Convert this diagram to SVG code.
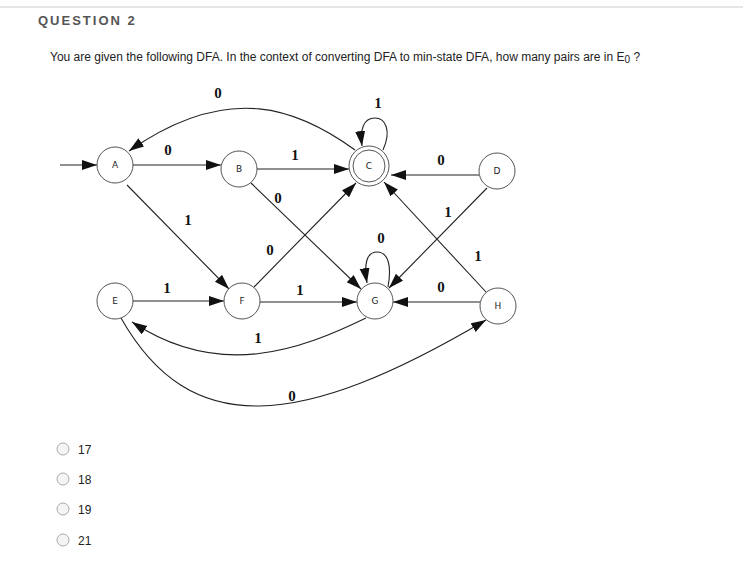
<svg xmlns="http://www.w3.org/2000/svg" width="743" height="583" viewBox="0 0 743 583">
<style>
.n{fill:#fff;stroke:#555;stroke-width:1}
.nl{font-family:"DejaVu Sans",sans-serif;font-size:9px;fill:#222;text-anchor:middle}
.e{fill:none;stroke:#222;stroke-width:1.1}
.el{font-family:"Liberation Serif",serif;font-weight:bold;font-size:15px;fill:#111;text-anchor:middle}
.t{font-family:"Liberation Sans",Arial,sans-serif;font-size:12px;fill:#222}
.r{fill:#f4f4f4;stroke:#aaa;stroke-width:1}
</style>
<defs>
<marker id="ar" markerUnits="userSpaceOnUse" markerWidth="16" markerHeight="12" refX="15" refY="5" orient="auto">
<path d="M0,0 L15,5 L0,10 Z" fill="#111"/>
</marker>
</defs>
<rect width="743" height="583" fill="#fff"/>
<line x1="0" y1="7" x2="743" y2="7" stroke="#ccc"/>
<text x="38" y="25" class="t" style="font-size:13px;font-weight:bold;letter-spacing:2px;fill:#555">QUESTION 2</text>
<text x="50" y="61" class="t">You are given the following DFA. In the context of converting DFA to min-state DFA, how many pairs are in E<tspan font-size="10" dy="2">0</tspan><tspan dy="-2">  ?</tspan></text>
<g id="edges">
<line class="e" x1="60" y1="165" x2="97" y2="165" marker-end="url(#ar)"/>
<path class="e" d="M355,150 C300,110 230,80 129,151" marker-end="url(#ar)"/>
<line class="e" x1="133" y1="165" x2="221" y2="165" marker-end="url(#ar)"/>
<line class="e" x1="257" y1="169" x2="349" y2="169" marker-end="url(#ar)"/>
<line class="e" x1="479" y1="175" x2="391" y2="175" marker-end="url(#ar)"/>
<line class="e" x1="127" y1="185" x2="229" y2="289" marker-end="url(#ar)"/>
<line class="e" x1="251" y1="183" x2="361" y2="289" marker-end="url(#ar)"/>
<line class="e" x1="254" y1="287" x2="356" y2="183" marker-end="url(#ar)"/>
<line class="e" x1="487" y1="188" x2="389" y2="288" marker-end="url(#ar)"/>
<line class="e" x1="486" y1="292" x2="384" y2="182" marker-end="url(#ar)"/>
<line class="e" x1="133" y1="301" x2="224" y2="301" marker-end="url(#ar)"/>
<line class="e" x1="260" y1="302" x2="357" y2="302" marker-end="url(#ar)"/>
<line class="e" x1="480" y1="302" x2="393" y2="302" marker-end="url(#ar)"/>
<path class="e" d="M366,318 C300,350 220,380 132,322" marker-end="url(#ar)"/>
<path class="e" d="M121,318 C190,440 300,430 486,320" marker-end="url(#ar)"/>
<path class="e" d="M383,150 C392,130 385,118 375,118 C363,118 360,130 362,146" marker-end="url(#ar)"/>
<path class="e" d="M388,287 C392,265 388,252 377,252 C366,252 364,265 367,283" marker-end="url(#ar)"/>
</g>
<g id="A"><circle class="n" cx="115" cy="165" r="18"/><text class="nl" x="115" y="168">A</text></g>
<g id="B"><circle class="n" cx="239" cy="169" r="18"/><text class="nl" x="239" y="172">B</text></g>
<g id="C"><circle class="n" cx="369" cy="166" r="20"/><circle class="n" cx="369" cy="166" r="16"/><text class="nl" x="369" y="169">C</text></g>
<g id="D"><circle class="n" cx="497" cy="171" r="18"/><text class="nl" x="497" y="174">D</text></g>
<g id="E"><circle class="n" cx="115" cy="301" r="18"/><text class="nl" x="115" y="304">E</text></g>
<g id="F"><circle class="n" cx="242" cy="301" r="18"/><text class="nl" x="242" y="304">F</text></g>
<g id="G"><circle class="n" cx="375" cy="301" r="18"/><text class="nl" x="375" y="304">G</text></g>
<g id="H"><circle class="n" cx="498" cy="306" r="18"/><text class="nl" x="498" y="309">H</text></g>
<g id="labels">
<text class="el" x="218" y="98">0</text>
<text class="el" x="378" y="108">1</text>
<text class="el" x="168" y="155">0</text>
<text class="el" x="295" y="160">1</text>
<text class="el" x="441" y="165">0</text>
<text class="el" x="278" y="203">0</text>
<text class="el" x="188" y="225">1</text>
<text class="el" x="448" y="217">1</text>
<text class="el" x="270" y="255">0</text>
<text class="el" x="381" y="243">0</text>
<text class="el" x="478" y="261">1</text>
<text class="el" x="167" y="293">1</text>
<text class="el" x="300" y="295">1</text>
<text class="el" x="441" y="292">0</text>
<text class="el" x="258" y="343">1</text>
<text class="el" x="292" y="401">0</text>
</g>
<g id="options">
<circle class="r" cx="63" cy="449" r="6"/><text class="t" x="78" y="454">17</text>
<circle class="r" cx="63" cy="479" r="6"/><text class="t" x="78" y="484">18</text>
<circle class="r" cx="63" cy="509" r="6"/><text class="t" x="78" y="514">19</text>
<circle class="r" cx="63" cy="540" r="6"/><text class="t" x="78" y="545">21</text>
</g>
</svg>
